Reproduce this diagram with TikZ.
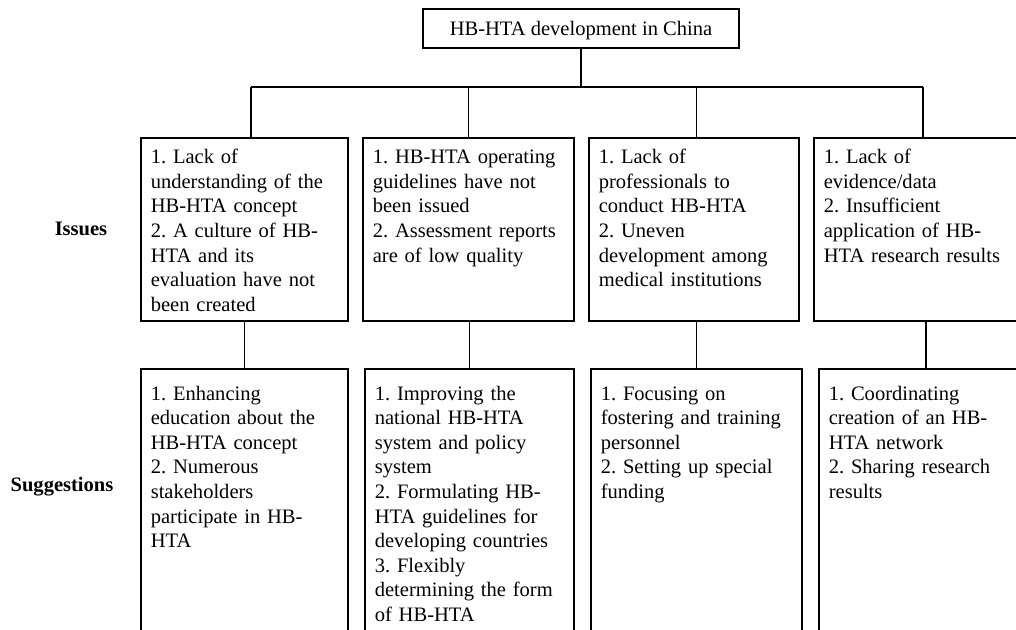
\documentclass[tikz,border=0pt]{standalone}
\usepackage{fontspec}
\setmainfont{Liberation Serif}
\usetikzlibrary{positioning,calc}
\frenchspacing
\tikzset{
  topbox/.style   = {draw, line width=1.2pt, font=\fontsize{15.4}{18.45}\selectfont,
                     minimum width=237pt, minimum height=29.25pt, inner sep=0pt,
                     text height=10pt, text depth=0pt},
  issuebox/.style = {draw, line width=1.2pt, font=\fontsize{15.4}{18.45}\selectfont,
                     anchor=north west, align=left, inner xsep=7.5pt, inner ysep=9pt,
                     text height=10.5pt, text depth=108.75pt},
  suggbox/.style  = {issuebox, text height=14.5pt, text depth=186.5pt},
  wire/.style     = {line width=1.1pt},
  rowlab/.style   = {font=\fontsize{15.4}{18.45}\selectfont\bfseries, anchor=base},
}
\begin{document}
\begin{tikzpicture}[x=0.75pt,y=-0.75pt]
  \useasboundingbox (0,0) rectangle (1016,630);
  \clip (0,0) rectangle (1016,630);
  \node[topbox] (top) at (581,28.5) {HB-HTA development in China};
  % issues row
  \node[issuebox, text width=140.25pt] (i1) at (140,137) {1. Lack of\\ understanding of the\\ HB-HTA concept\\ 2. A culture of HB-\\ HTA and its\\ evaluation have not\\ been created};
  \node[issuebox, text width=143.25pt] (i2) at (362,137) {1. HB-HTA operating\\ guidelines have not\\ been issued\\ 2. Assessment reports\\ are of low quality};
  \node[issuebox, text width=142.5pt] (i3) at (588,137) {1. Lack of\\ professionals to\\ conduct HB-HTA\\ 2. Uneven\\ development among\\ medical institutions};
  \node[issuebox, text width=148.5pt] (i4) at (813,137) {1. Lack of\\ evidence/data\\ 2. Insufficient\\ application of HB-\\ HTA research results};
  % suggestions row
  \node[suggbox, text width=140.25pt] (s1) at (140,368) {1. Enhancing\\ education about the\\ HB-HTA concept\\ 2. Numerous\\ stakeholders\\ participate in HB-\\ HTA};
  \node[suggbox, text width=141.75pt] (s2) at (364,368) {1. Improving the\\ national HB-HTA\\ system and policy\\ system\\ 2. Formulating HB-\\ HTA guidelines for\\ developing countries\\ 3. Flexibly\\ determining the form\\ of HB-HTA};
  \node[suggbox, text width=143.25pt] (s3) at (590,368) {1. Focusing on\\ fostering and training\\ personnel\\ 2. Setting up special\\ funding};
  \node[suggbox, text width=145.5pt] (s4) at (818,368) {1. Coordinating\\ creation of an HB-\\ HTA network\\ 2. Sharing research\\ results};
  \node[rowlab] (lissues) at (81,236) {Issues};
  \node[rowlab] (lsugg) at (62,491) {Suggestions};
  % connectors
  \coordinate (bar) at (581,87);
  \draw[wire] (top.south) -- (bar);
  \draw[wire] ([xshift=4.9pt]i1.north |- bar) -- (i4.north |- bar);
  \foreach \n/\dx in {1/4.9pt,2/0pt,3/2.2pt,4/0pt}
    \draw[wire] ([xshift=\dx]i\n.north |- bar) -- ([xshift=\dx]i\n.north);
  \foreach \n in {1,...,4}
    \draw[wire] (i\n.south -| s\n.north) -- (s\n.north);
\end{tikzpicture}
\end{document}
